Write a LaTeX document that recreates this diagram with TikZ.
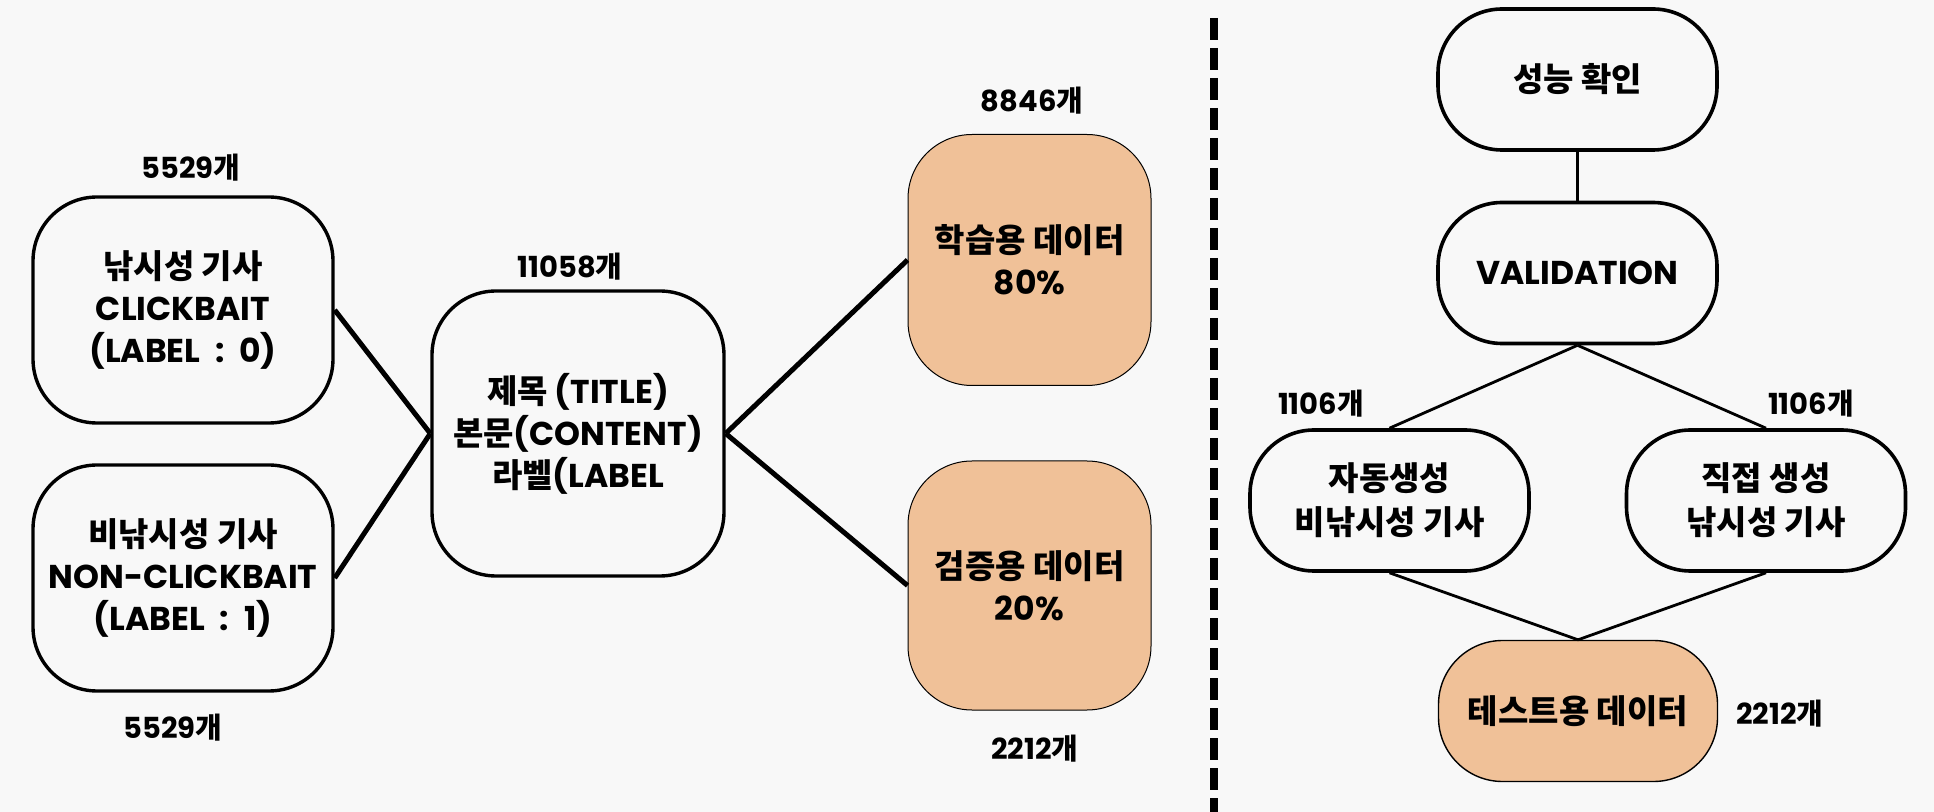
\documentclass[tikz,border=0pt]{standalone}
\usepackage{fontspec}
\setmainfont{Poppins}
\newfontfamily\krfont{Noto Sans CJK KR}
\newcommand{\hk}[1]{{\krfont\bfseries #1}}
\newcommand{\csp}{\hspace{0.45em}}
\definecolor{bgc}{HTML}{F8F8F8}
\definecolor{orangefill}{HTML}{F0C198}
\tikzset{
  box/.style={draw=black, line width=1.7pt, rounded corners=32pt, fill=bgc, align=center,
    inner sep=0pt, font=\bfseries\fontsize{16.5}{21}\selectfont},
  obox/.style={box, fill=orangefill, line width=0.5pt},
  rbox/.style={box, line width=1.8pt, minimum width=139.5pt, minimum height=70.5pt,
    font=\bfseries\fontsize{16.5}{22}\selectfont},
  cnt/.style={font=\bfseries\fontsize{14.5}{16}\selectfont, inner sep=0pt},
  thickline/.style={line width=2.5pt},
  thinline/.style={line width=1.4pt}
}
\begin{document}
\begin{tikzpicture}[x=0.5pt, y=-0.5pt]
\fill[bgc] (0,0) rectangle (1934,812);
\useasboundingbox (0,0) rectangle (1934,812);
% left part
\node[box, minimum width=150pt, minimum height=113pt] (click) at (183,310)
  {\hk{낚시성 기사}\\CLICKBAIT\\(LABEL\csp:\csp0)};
\node[box, minimum width=150pt, minimum height=113pt] (nonclick) at (183,578)
  {\hk{비낚시성 기사}\\NON-CLICKBAIT\\(LABEL\csp:\csp1)};
\node[box, minimum width=146pt, minimum height=142.5pt] (all) at (578,433.5)
  {\hk{제목} (TITLE)\\\hk{본문}(CONTENT)\\\hk{라벨}(LABEL};
\node[obox, minimum width=121.5pt, minimum height=125.5pt] (train) at (1029.5,260)
  {\hk{학습용 데이터}\\80\%};
\node[obox, minimum width=121.5pt, minimum height=124.5pt] (valid) at (1029.5,585.5)
  {\hk{검증용 데이터}\\20\%};
\node[cnt] (c1) at (191,168) {5529\hk{개}};
\node[cnt] (c2) at (173,728) {5529\hk{개}};
\node[cnt] (c3) at (570,267) {11058\hk{개}};
\node[cnt] (c4) at (1032,101) {8846\hk{개}};
\node[cnt] (c5) at (1035,749) {2212\hk{개}};
\draw[thickline] (click.east) -- (all.west);
\draw[thickline] (nonclick.east) -- (all.west);
\draw[thickline] (all.east) -- (train.west);
\draw[thickline] (all.east) -- (valid.west);
% divider
\coordinate (dtop) at (1214,18);
\coordinate (dbot) at (1214,812);
\draw[line width=3.6pt, dash pattern=on 11pt off 4pt] (dtop) -- (dbot);
% right part
\node[rbox] (perf) at (1577.5,79.5) {\hk{성능 확인}};
\node[rbox] (val) at (1577.5,273) {VALIDATION};
\node[rbox] (auto) at (1389.5,500.5) {\hk{자동생성}\\\hk{비낚시성 기사}};
\node[rbox] (manual) at (1766,500.5) {\hk{직접 생성}\\\hk{낚시성 기사}};
\node[rbox, fill=orangefill, line width=0.7pt] (test) at (1578,711) {\hk{테스트용 데이터}};
\node[cnt] (c6) at (1321,404) {1106\hk{개}};
\node[cnt] (c7) at (1811,404) {1106\hk{개}};
\node[cnt] (c8) at (1780,714) {2212\hk{개}};
\draw[thinline] (perf.south) -- (val.north);
\draw[thinline] (val.south) -- (auto.north);
\draw[thinline] (val.south) -- (manual.north);
\draw[thinline] (auto.south) -- (test.north);
\draw[thinline] (manual.south) -- (test.north);
\end{tikzpicture}
\end{document}
